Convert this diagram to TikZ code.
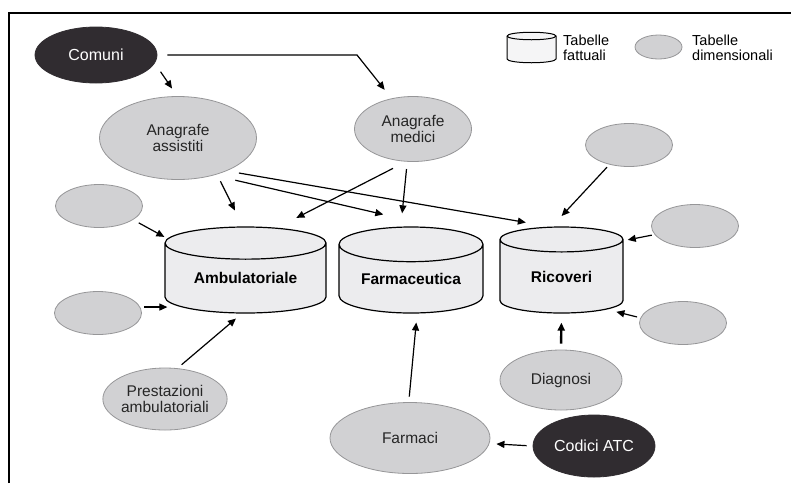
\documentclass[tikz,border=0pt]{standalone}
\usepackage{fontspec}
\setmainfont{Liberation Sans}
\usetikzlibrary{shapes.geometric,arrows.meta}
\definecolor{dimfill}{RGB}{209,209,211}
\definecolor{dimborder}{RGB}{150,150,152}
\definecolor{keyfill}{RGB}{48,44,48}
\definecolor{factfill}{RGB}{236,236,238}
\tikzset{
 dim table/.style={ellipse,draw=dimborder,fill=dimfill,line width=.8pt,inner sep=0pt,
                   text=black!85,align=center,font=\fontsize{15.5}{16}\selectfont},
 small dim/.style={dim table,minimum width=87pt,minimum height=43pt},
 key table/.style={dim table,draw=keyfill,fill=keyfill,text=white,
                   font=\fontsize{16}{16}\selectfont},
 fact table/.style={cylinder,shape border rotate=90,draw=black,line width=1.2pt,
                    cylinder uses custom fill,cylinder body fill=factfill,
                    cylinder end fill=factfill,inner sep=0pt,anchor=shape center,
                    font=\bfseries\fontsize{15.5}{16}\selectfont},
 fact icon/.style={draw=black,fill=factfill!50,line width=1pt},
 legend text/.style={anchor=west,inner sep=0pt,align=left,
                     font=\fontsize{14.5}{15}\selectfont},
 link/.style={-{Triangle[length=8pt,width=7pt]},line width=1.2pt},
 frame/.style={line width=2pt}
}
\begin{document}
\begin{tikzpicture}[x=1pt,y=-1pt]
 \useasboundingbox (0,0) rectangle (791,483);
 \draw[frame] (9,483) -- (9,12.5) -- (791,12.5);

 \filldraw[fact icon] (507,36) -- (507,59)
   arc[start angle=180,end angle=360,x radius=24.5pt,y radius=3.75pt] -- (556,36)
   arc[start angle=0,end angle=180,x radius=24.5pt,y radius=3.75pt];
 \draw[fact icon,fill=none] (507,36)
   arc[start angle=180,end angle=360,x radius=24.5pt,y radius=3.75pt];
 \node[legend text] (keyfacttext) at (563,47.5) {Tabelle\\fattuali};
 \node[dim table,minimum width=47pt,minimum height=24pt] (keydim) at (658.5,47) {};
 \node[legend text] (keydimtext) at (692,47.5) {Tabelle\\dimensionali};

 \node[key table,minimum width=122pt,minimum height=56pt] (comuni) at (96,55) {Comuni};
 \node[dim table,minimum width=157pt,minimum height=83pt] (assist) at (178,138) {Anagrafe\\assistiti};
 \node[dim table,minimum width=117pt,minimum height=65pt] (medici) at (413,129) {Anagrafe\\medici};
 \node[dim table,minimum width=121pt,minimum height=62pt] (prest) at (165,399) {Prestazioni\\ambulatoriali};
 \node[dim table,minimum width=160pt,minimum height=71pt] (farmaci) at (410,438) {Farmaci};
 \node[dim table,minimum width=122pt,minimum height=60pt] (diagn) at (561,380) {Diagnosi};
 \node[key table,minimum width=122pt,minimum height=62pt] (atc) at (594,446) {Codici ATC};
 \foreach \n/\x/\y in {dimA/99/206,dimB/98/313,dimC/629/145,dimD/695/226,dimE/683/323}
   \node[small dim] (\n) at (\x,\y) {};

 \node[fact table,minimum width=161pt,minimum height=86pt,aspect=.311] (amb) at (245.5,270) {Ambulatoriale};
 \node[fact table,minimum width=144pt,minimum height=86pt,aspect=.347] (farm) at (411,270) {Farmaceutica};
 \node[fact table,minimum width=123pt,minimum height=86pt,aspect=.407] (ricov) at (561.5,270) {Ricoveri};

 \coordinate (bend) at (357,55);
 \draw[link,shorten <=10.3pt,shorten >=9.2pt] (comuni.-8) -- (assist.91);
 \draw[link,shorten <=10pt,shorten >=11pt] (comuni.east) -- (bend) -- (medici.125);
 \draw[link,shorten <=7.6pt,shorten >=17.8pt] (assist.-43) -- (amb.93);
 \draw[link,shorten <=21.9pt,shorten >=61pt] (assist.-46) -- (farm.58.2);
 \draw[link,shorten <=12.3pt,shorten >=24.5pt] (assist.-34.5) -- (ricov.103.5);
 \draw[link,shorten <=14.7pt,shorten >=21.6pt] (medici.-102) -- (amb.58.5);
 \draw[link,shorten <=7.3pt,shorten >=13.3pt] (medici.-100.5) -- (farm.101.7);
 \draw[link,shorten <=3.5pt,shorten >=14.4pt] (dimC.-135) -- (ricov.101.8);
 \draw[link,shorten <=2.9pt,shorten >=4.2pt] (dimD.-168) -- (ricov.30.3);
 \draw[link,shorten <=3.4pt,shorten >=9.8pt] (dimE.173) -- (ricov.-36.1);
 \draw[link,line width=2.4pt,shorten <=6pt,shorten >=9pt] (diagn.north) -- (ricov.south);
 \draw[link,shorten <=5.5pt,shorten >=9pt] (farmaci.92.4) -- (farm.-80.3);
 \draw[link,shorten <=6pt,shorten >=7pt] (atc.west) -- (farmaci.-4);
 \draw[link,shorten <=5.5pt,shorten >=7.7pt] (prest.68.8) -- (amb.-96);
 \draw[link,shorten <=4pt,shorten >=-3pt] (dimB.8) -- (dimB.8 -| amb.west);
 \draw[link,shorten <=6.4pt,shorten >=3.5pt] (dimA.-22.4) -- (amb.153.3);
\end{tikzpicture}
\end{document}
